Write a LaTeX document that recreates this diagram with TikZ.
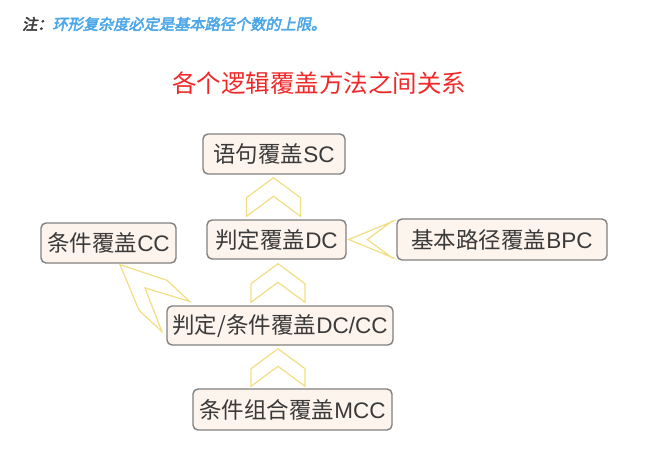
\documentclass[tikz,border=0pt]{standalone}
\usepackage{fontspec}
\setmainfont{Liberation Sans}
\newfontfamily\cjk{Noto Sans CJK SC}
\newfontfamily\cjknote[FakeSlant=0.2,FakeBold=3]{Noto Sans CJK SC}
\usetikzlibrary{calc}

\definecolor{boxfill}{RGB}{253,244,237}
\definecolor{boxline}{RGB}{128,128,128}
\definecolor{boxtext}{RGB}{58,58,58}
\definecolor{chevline}{RGB}{242,222,130}
\definecolor{titlered}{RGB}{240,40,40}
\definecolor{noteblue}{RGB}{74,166,232}
\definecolor{notegray}{RGB}{60,60,60}

% Hollow chevron arrow from base #1 to tip #2:
% #3 half width, #4 tip-to-shoulder depth, #5 base-to-notch depth
\newcommand\chevron[5]{%
  \coordinate (chB) at (#1);
  \coordinate (chT) at (#2);
  \coordinate (chS) at ($(chT)!#4!(chB)$);
  \coordinate (chN) at ($(chB)!#5!(chT)$);
  \draw[chev] (chT) -- ($(chS)!#3!90:(chT)$) -- ($(chB)!#3!90:(chT)$)
    -- (chN) -- ($(chB)!#3!-90:(chT)$) -- ($(chS)!#3!-90:(chT)$) -- cycle;
}

\begin{document}
\begin{tikzpicture}[x=1pt,y=-1pt,
  box/.style={draw=boxline, line width=1.4pt, fill=boxfill, rounded corners=5pt,
    inner sep=0pt, text=boxtext, font=\fontsize{22.5}{27}\selectfont},
  chev/.style={draw=chevline, line width=1.2pt, line join=miter}]
\useasboundingbox (0,0) rectangle (648,466);

% heading note and title
\node[anchor=west, inner sep=0pt, font=\cjknote\fontsize{15.2}{18}\selectfont] (note) at (22,24)
  {\textcolor{notegray}{注：}\textcolor{noteblue}{环形复杂度必定是基本路径个数的上限。}};
\node[inner sep=0pt, text=titlered, font=\cjk\fontsize{24.5}{29}\selectfont] (title) at (319,83)
  {各个逻辑覆盖方法之间关系};

% coverage criteria
\node[box, minimum width=142pt, minimum height=40pt] (sc)   at (274,154)   {{\cjk 语句覆盖}SC};
\node[box, minimum width=139pt, minimum height=39pt] (dc)   at (276.5,239.5) {{\cjk 判定覆盖}DC};
\node[box, minimum width=135pt, minimum height=40pt] (cc)   at (108.5,243) {{\cjk 条件覆盖}CC};
\node[box, minimum width=210pt, minimum height=41pt] (bpc)  at (502,239.5) {{\cjk 基本路径覆盖}BPC};
\node[box, minimum width=226pt, minimum height=39pt] (dccc) at (280,325.5) {{\cjk 判定/条件覆盖}DC/CC};
\node[box, minimum width=199pt, minimum height=41pt] (mcc)  at (292.5,409.5) {{\cjk 条件组合覆盖}MCC};

% subsumption arrows
\chevron{[xshift=-3pt,yshift=3pt]dc.north}{[xshift=-0.5pt,yshift=-3pt]sc.south}{27pt}{20pt}{20pt}
\chevron{[xshift=-2pt,yshift=3pt]dccc.north}{[xshift=1.5pt,yshift=-4pt]dc.south}{27pt}{20pt}{20pt}
\chevron{[xshift=-14.5pt,yshift=2pt]mcc.north}{[xshift=-2pt,yshift=-3pt]dccc.south}{27pt}{20pt}{20pt}
\chevron{[xshift=-4pt]bpc.west}{[xshift=2pt]dc.east}{18.5pt}{45pt}{25pt}
\chevron{[xshift=9.5pt,yshift=9pt]dccc.west}{[xshift=11.5pt,yshift=-1pt]cc.south}{20.5pt}{45pt}{42pt}
\end{tikzpicture}
\end{document}
